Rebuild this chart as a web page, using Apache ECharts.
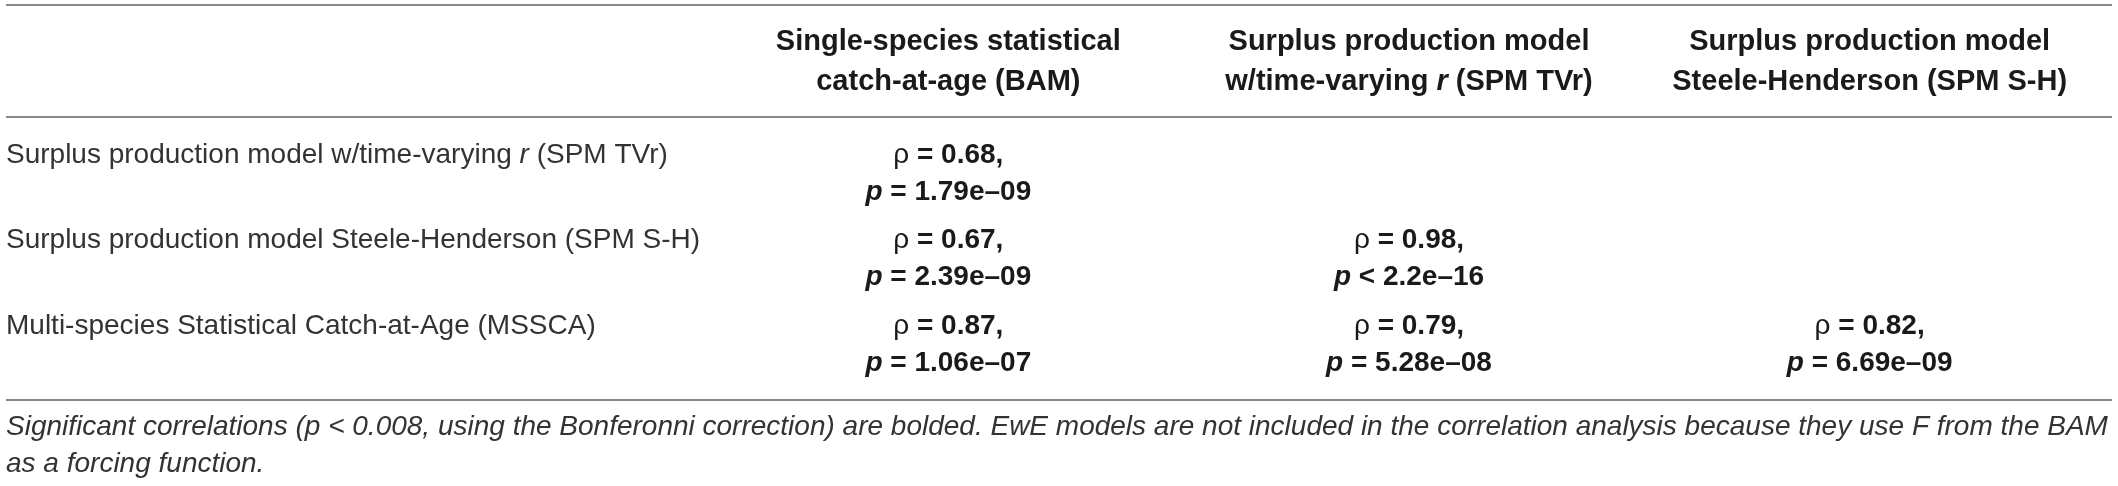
<!DOCTYPE html>
<html>
<head>
<meta charset="utf-8">
<script src="https://cdn.jsdelivr.net/npm/echarts@6/dist/echarts.min.js"></script>
<style>
  html, body { margin: 0; padding: 0; background: #fff; }
  #main { width: 2118px; height: 486px; }
</style>
</head>
<body>
<div id="main"></div>
<script>
// row labels (left column)
var rowLabels = [
  'Surplus production model w/time-varying {i|r} (SPM TVr)',
  'Surplus production model Steele-Henderson (SPM S-H)',
  'Multi-species Statistical Catch-at-Age (MSSCA)'
];
// column headers (two lines each)
var colHeads = [
  'Single-species statistical\ncatch-at-age (BAM)',
  'Surplus production model\nw/time-varying {bi|r} (SPM TVr)',
  'Surplus production model\nSteele-Henderson (SPM S-H)'
];
// filled cells
var cellCol = [0, 0, 1, 0, 1, 2];
var cellRow = [0, 1, 1, 2, 2, 2];
var rhoVals = ['0.68', '0.67', '0.98', '0.87', '0.79', '0.82'];
var pOps    = ['=', '=', '<', '=', '=', '='];
var pVals   = ['1.79e–09', '2.39e–09', '2.2e–16', '1.06e–07', '5.28e–08', '6.69e–09'];
var footNote = 'Significant correlations (p < 0.008, using the Bonferonni correction) are bolded. EwE models are not included in the correlation analysis because they use F from the BAM\nas a forcing function.';

var FONT = 'Liberation Sans';
var SIZE = 28;
var INK = '#1a1a1a';

var cells = [];
for (var i = 0; i < cellCol.length; i++) {
  cells.push([cellCol[i], cellRow[i], i]);
}

var myChart = echarts.init(document.getElementById('main'));
var option = {
  backgroundColor: '#fff',
  animation: false,
  title: {
    text: footNote,
    left: 6,
    top: 409,
    padding: 0,
    textStyle: {
      fontFamily: FONT, fontSize: SIZE, fontStyle: 'italic', fontWeight: 'normal',
      color: '#333', lineHeight: 37
    }
  },
  grid: { left: 718, right: 18, top: 131, bottom: 99 },
  xAxis: {
    type: 'category',
    position: 'top',
    data: colHeads,
    axisLine: { show: false },
    axisTick: { show: false },
    splitLine: { show: false },
    axisLabel: {
      interval: 0,
      margin: 69,
      verticalAlign: 'middle',
      fontFamily: FONT, fontSize: 29, fontWeight: 'bold', color: INK, lineHeight: 40,
      rich: {
        bi: { fontFamily: FONT, fontSize: 29, fontWeight: 'bold', fontStyle: 'italic', color: INK, lineHeight: 40 }
      }
    }
  },
  yAxis: {
    type: 'category',
    inverse: true,
    data: rowLabels,
    axisLine: { show: false },
    axisTick: { show: false },
    splitLine: { show: false },
    axisLabel: {
      interval: 0,
      align: 'left',
      margin: 712,
      padding: [0, 0, 37, 0],
      fontFamily: FONT, fontSize: SIZE, color: '#333',
      rich: {
        i: { fontFamily: FONT, fontSize: SIZE, fontStyle: 'italic', color: '#333' }
      }
    }
  },
  series: [{
    type: 'scatter',
    data: cells,
    symbolSize: 1,
    itemStyle: { color: 'rgba(255,255,255,0)', opacity: 1 },
    label: {
      show: true,
      position: 'inside',
      align: 'center',
      verticalAlign: 'middle',
      color: INK,
      formatter: function (p) {
        var k = p.data[2];
        return '{r|ρ}{b|\u00a0=\u00a0' + rhoVals[k] + ',}\n{bi|p}{b|\u00a0' + pOps[k] + '\u00a0' + pVals[k] + '}';
      },
      rich: {
        r: { fontFamily: FONT, fontSize: SIZE, color: INK, lineHeight: 37 },
        b: { fontFamily: FONT, fontSize: SIZE, fontWeight: 'bold', color: INK, lineHeight: 37 },
        bi: { fontFamily: FONT, fontSize: SIZE, fontWeight: 'bold', fontStyle: 'italic', color: INK, lineHeight: 37 }
      }
    }
  }],
  graphic: [
    { type: 'line', shape: { x1: 6, y1: 5, x2: 2112, y2: 5 }, style: { stroke: '#8a8a8a', lineWidth: 2 } },
    { type: 'line', shape: { x1: 6, y1: 117, x2: 2112, y2: 117 }, style: { stroke: '#8a8a8a', lineWidth: 2 } },
    { type: 'line', shape: { x1: 6, y1: 400, x2: 2112, y2: 400 }, style: { stroke: '#8a8a8a', lineWidth: 2 } }
  ]
};
myChart.setOption(option);
</script>
</body>
</html>
